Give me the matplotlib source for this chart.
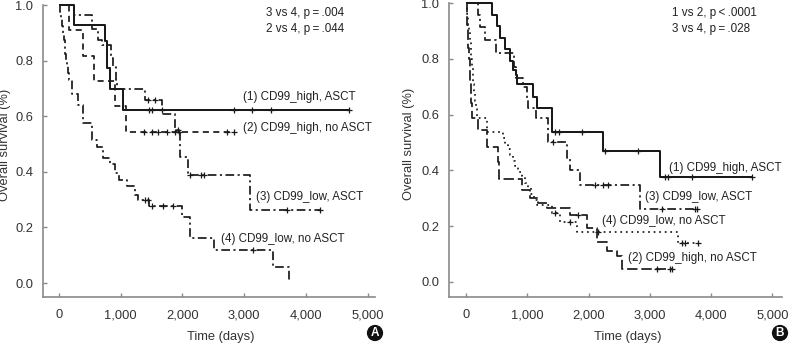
import numpy as np
import matplotlib
matplotlib.use("Agg")
import matplotlib.pyplot as plt
from matplotlib.ticker import FuncFormatter

plt.rcParams['font.family'] = ['Liberation Sans', 'DejaVu Sans']

# ---- panel A: event times (days) and survival after each event, censor times ----
a1_t = [245, 740, 773, 827, 1040]
a1_s = [0.928, 0.872, 0.772, 0.697, 0.621]
a1_c = [1460, 1500, 1665, 2830, 3130, 3430, 4705]

a2_t = [160, 385, 575, 905, 1085]
a2_s = [0.909, 0.818, 0.727, 0.636, 0.545]
a2_c = [1370, 1500, 1610, 1745, 1880, 1945, 2720, 2830]

a3_t = [245, 535, 630, 700, 840, 875, 925, 945, 1395, 1670, 1880, 1960, 2090, 3096]
a3_s = [0.964, 0.915, 0.874, 0.856, 0.81, 0.777, 0.73, 0.698, 0.658, 0.608,
        0.55, 0.453, 0.388, 0.263]
a3_c = [1450, 1560, 1930, 2130, 2300, 2350, 3700, 4230]

a4_t = [16, 30, 45, 60, 75, 90, 100, 112, 124, 140, 167, 205, 313, 394, 530, 611,
        718, 827, 908, 978, 1097, 1232, 1275, 1464, 1988, 2123, 2512, 3468, 3728]
a4_s = [0.975, 0.95, 0.925, 0.90, 0.875, 0.85, 0.825, 0.80, 0.78, 0.755, 0.73,
        0.68, 0.64, 0.576, 0.514, 0.49, 0.45, 0.43, 0.395, 0.37, 0.35, 0.317,
        0.30, 0.277, 0.237, 0.162, 0.119, 0.058, 0.0]
a4_c = [1400, 1445, 1500, 1690, 1850, 3144]

# ---- panel B ----
b1_t = [419, 511, 555, 636, 718, 767, 811, 837, 1098, 1153, 1398, 2235, 3165]
b1_s = [0.957, 0.916, 0.874, 0.834, 0.792, 0.76, 0.742, 0.708, 0.664, 0.625,
        0.539, 0.471, 0.377]
b1_c = [1455, 1510, 1890, 2270, 2810, 3245, 3300, 3680, 4670]

b2_t = [10, 20, 30, 40, 50, 60, 70, 80, 88, 93, 200, 337, 527, 545, 908, 1044,
        1180, 1316, 1697, 1969, 2132, 2295, 2458, 2540]
b2_s = [0.96, 0.92, 0.88, 0.84, 0.80, 0.76, 0.72, 0.68, 0.64, 0.587, 0.545,
        0.485, 0.43, 0.369, 0.33, 0.30, 0.283, 0.265, 0.24, 0.192, 0.144,
        0.111, 0.093, 0.047]
b2_c = [1832, 3111, 3328, 3356]

b3_t = [200, 230, 310, 490, 790, 815, 935, 990, 1010, 1140, 1330, 1343, 1643,
        1697, 1860, 2838]
b3_s = [0.957, 0.915, 0.867, 0.82, 0.77, 0.73, 0.70, 0.66, 0.625, 0.587, 0.545,
        0.503, 0.444, 0.40, 0.348, 0.263]
b3_c = [1420, 2104, 2240, 2321, 3192, 3736, 3763]

b4_t = [10, 20, 30, 40, 50, 60, 70, 80, 90, 100, 110, 120, 130, 145, 160, 180,
        340, 604, 640, 680, 720, 760, 800, 850, 908, 960, 1010, 1060, 1110,
        1153, 1400, 1533, 1811, 3463]
b4_s = [0.98, 0.96, 0.94, 0.92, 0.90, 0.88, 0.86, 0.83, 0.80, 0.77, 0.74, 0.71,
        0.68, 0.65, 0.62, 0.587, 0.539, 0.515, 0.495, 0.475, 0.455, 0.435,
        0.415, 0.395, 0.378, 0.355, 0.335, 0.315, 0.295, 0.276, 0.247, 0.216,
        0.18, 0.139]
b4_c = [1452, 1697, 2158, 3519, 3572, 3790]

x_ticks = [0, 1000, 2000, 3000, 4000, 5000]
y_ticks = [0.0, 0.2, 0.4, 0.6, 0.8, 1.0]

SOLID = '-'
DASH = (0, (3.5, 2.5))
LONGDASH = (0, (6, 2.2))
DASHDOT = (0, (5, 2, 1.2, 2))
DOT = (0, (1, 2.2))
INK = '#1a1a1a'
GREY = '#8a8a8a'


def km_steps(t, s, end):
    xs, ys = [0.0], [1.0]
    for ti, si in zip(t, s):
        xs += [ti, ti]
        ys += [ys[-1], si]
    if end > xs[-1]:
        xs.append(end)
        ys.append(ys[-1])
    return np.array(xs), np.array(ys)


def surv_at(t, s, x):
    v = 1.0
    for ti, si in zip(t, s):
        if ti <= x:
            v = si
    return v


def draw_curve(ax, t, s, c, ls, lw=1.25):
    end = max([t[-1]] + c)
    xs, ys = km_steps(t, s, end)
    ax.plot(xs, ys, color=INK, ls=ls, lw=lw, clip_on=False,
            solid_capstyle='butt', dash_capstyle='butt')
    cy = [surv_at(t, s, x) for x in c]
    ax.plot(c, cy, ls='none', marker='+', ms=5, mew=0.9, color=INK, clip_on=False)


def style_axes(ax, xlim, ylim, ylab_x):
    ax.set_xlim(*xlim)
    ax.set_ylim(*ylim)
    for side in ['top', 'right']:
        ax.spines[side].set_visible(False)
    for side in ['left', 'bottom']:
        ax.spines[side].set_color(GREY)
        ax.spines[side].set_linewidth(1.2)
    ax.set_xticks(x_ticks)
    ax.set_yticks(y_ticks)
    ax.xaxis.set_major_formatter(FuncFormatter(lambda v, p: f"{int(v):,}"))
    ax.yaxis.set_major_formatter(FuncFormatter(lambda v, p: f"{v:.1f}"))
    ax.tick_params(direction='in', length=3, width=1, color=GREY,
                   labelcolor='#333333', labelsize=9.3)
    ax.tick_params(axis='x', pad=9)
    ax.tick_params(axis='y', pad=7)
    ax.set_xlabel('Time (days)', fontsize=9.3, color='#333333')
    ax.set_ylabel('Overall survival (%)', fontsize=9.3, color='#333333')
    ax.xaxis.set_label_coords(0.536, -0.115)
    ax.yaxis.set_label_coords(ylab_x, 0.52)


fig = plt.figure(figsize=(7.92, 3.45), dpi=100)
axA = fig.add_axes([43 / 792, 48 / 345, 332 / 792, 292 / 345])
axB = fig.add_axes([449 / 792, 48 / 345, 333 / 792, 294 / 345])

style_axes(axA, (-259, 5121), (-0.050, 1.0), -0.097)
style_axes(axB, (-277, 5155), (-0.054, 1.0), -0.102)

draw_curve(axA, a1_t, a1_s, a1_c, SOLID, lw=1.45)
draw_curve(axA, a2_t, a2_s, a2_c, DASH)
draw_curve(axA, a3_t, a3_s, a3_c, DASHDOT)
draw_curve(axA, a4_t, a4_s, a4_c, DASHDOT)

draw_curve(axB, b1_t, b1_s, b1_c, SOLID, lw=1.45)
draw_curve(axB, b2_t, b2_s, b2_c, LONGDASH)
draw_curve(axB, b3_t, b3_s, b3_c, DASHDOT)
draw_curve(axB, b4_t, b4_s, b4_c, DOT)

lab = dict(fontsize=8.4, color='#222222', va='center', ha='left')
axA.text(2982, 0.669, '(1) CD99_high, ASCT', **lab)
axA.text(2982, 0.558, '(2) CD99_high, no ASCT', **lab)
axA.text(3193, 0.309, '(3) CD99_low, ASCT', **lab)
axA.text(2625, 0.158, '(4) CD99_low, no ASCT', **lab)
axA.text(3355, 0.971, '3 vs 4, p\u2009=\u2009.004', **lab)
axA.text(3355, 0.914, '2 vs 4, p\u2009=\u2009.044', **lab)

axB.text(3312, 0.408, '(1) CD99_high, ASCT', **lab)
axB.text(2920, 0.306, '(3) CD99_low, ASCT', **lab)
axB.text(2214, 0.219, '(4) CD99_low, no ASCT', **lab)
axB.text(2648, 0.087, '(2) CD99_high, no ASCT', **lab)
axB.text(3355, 0.963, '1 vs 2, p\u2009<\u2009.0001', **lab)
axB.text(3355, 0.907, '3 vs 4, p\u2009=\u2009.028', **lab)

badge = dict(fontsize=8.5, color='white', weight='bold', ha='center', va='center',
             bbox=dict(boxstyle='circle,pad=0.18', fc='#111111', ec='none'))
fig.text(375 / 792, 1 - 333 / 345, 'A', **badge)
fig.text(780 / 792, 1 - 333 / 345, 'B', **badge)

fig.savefig('out.png', dpi=100)
